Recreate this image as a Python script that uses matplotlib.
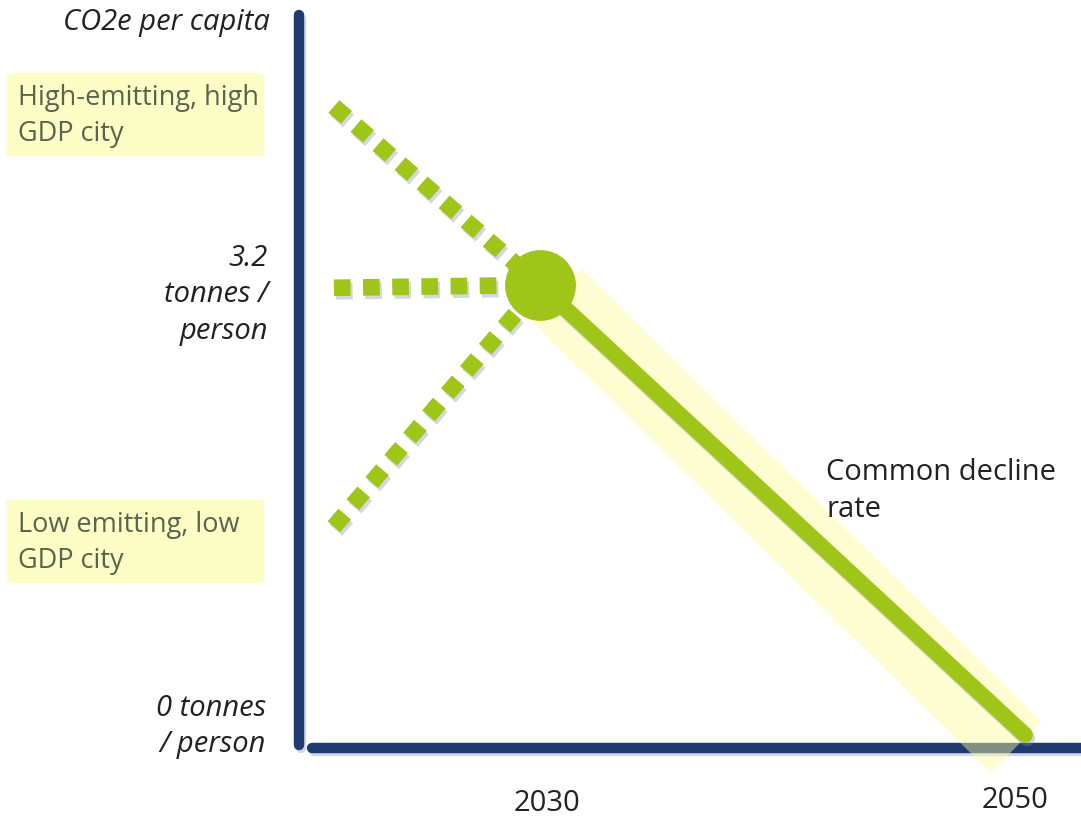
import matplotlib.pyplot as plt
import matplotlib.patheffects as pe
from matplotlib.patches import Rectangle

# years and tonnes per person
pivot_year = 2030
pivot_value = 3.2
end_year = 2050
end_value = 0.0
start_year = 2021.5
# starting levels of the three city paths
path_starts = [4.47, 3.18, 1.48]
box_labels = ["High-emitting, high\nGDP city", "Low emitting, low\nGDP city"]
box_levels = [4.416, 1.379]
x_ticks = [2030, 2050]

green = "#9fc519"
navy = "#1e3a6f"
shadow = [pe.SimpleLineShadow(offset=(1.5, -2.5), shadow_color="#7f8fb0", alpha=0.35), pe.Normal()]

plt.rcParams['font.family'] = ['Open Sans', 'DejaVu Sans']

fig = plt.figure(figsize=(10.81, 8.18), dpi=100)
ax = fig.add_axes([0, 0, 1, 1])
ymin, ymax = -0.591, 5.227
ax.set_xlim(2007.73, 2052.31)
ax.set_ylim(ymin, ymax)
ax.axis("off")

# axis lines
ax.plot([2020.06, 2020.06], [5.12, -0.07], color=navy, lw=7.5, solid_capstyle="round",
        path_effects=shadow, zorder=2)
ax.plot([2020.6, 2053], [-0.093, -0.093], color=navy, lw=7.5, solid_capstyle="round",
        path_effects=shadow, zorder=2)

# pale band behind the common decline line
ax.plot([2030.66, 2049.63], [3.13, -0.086], color="#fbfb9a", alpha=0.45, lw=52,
        solid_capstyle="butt", zorder=3)

# dotted paths converging on 2030
for v in path_starts:
    ax.plot([start_year, pivot_year], [v, pivot_value], color=green, lw=12,
            linestyle=(0, (1, 0.75)), dash_capstyle="butt", path_effects=shadow, zorder=4)

# common decline
ax.plot([pivot_year, end_year], [pivot_value, end_value], color=green, lw=11.5,
        solid_capstyle="round", path_effects=shadow, zorder=5)
ax.scatter([pivot_year], [pivot_value], s=2600, color=green, zorder=6, linewidths=0)

# labelled boxes on the left
for lab, lvl in zip(box_labels, box_levels):
    y_axes = (lvl - ymin) / (ymax - ymin)
    ax.add_patch(Rectangle((7 / 1081, y_axes - 41 / 818), 256 / 1081, 82 / 818,
                           transform=ax.transAxes, color="#fdfdc6", zorder=1))
    ax.text(18 / 1081, y_axes - 2 / 818, lab, transform=ax.transAxes, ha="left", va="center",
            fontsize=19.5, color="#58654e", linespacing=1.38, zorder=2)

# y labels
ytr = ax.get_yaxis_transform()
ax.text(270 / 1081, 5.065, "CO2e per capita", transform=ytr,
        ha="right", va="center", fontsize=21, style="italic", color="#222222")
ax.text(268 / 1081, 3.13, "3.2\ntonnes /\nperson", transform=ytr,
        ha="right", va="center", fontsize=21, style="italic", color="#222222", linespacing=1.33)
ax.text(266 / 1081, 0.06, "0 tonnes\n/ person", transform=ytr,
        ha="right", va="center", fontsize=21, style="italic", color="#222222", linespacing=1.33)

# x labels
ax.text(x_ticks[0] + 0.3, -0.485, str(x_ticks[0]), ha="center", va="center", fontsize=21, color="#222222")
ax.text(x_ticks[1] - 0.4, -0.47, str(x_ticks[1]), ha="center", va="center", fontsize=21, color="#222222")

ax.text(2041.8, 1.735, "Common decline\nrate", ha="left", va="center", fontsize=21,
        color="#222222", linespacing=1.38)

fig.savefig("out.png", dpi=100)
